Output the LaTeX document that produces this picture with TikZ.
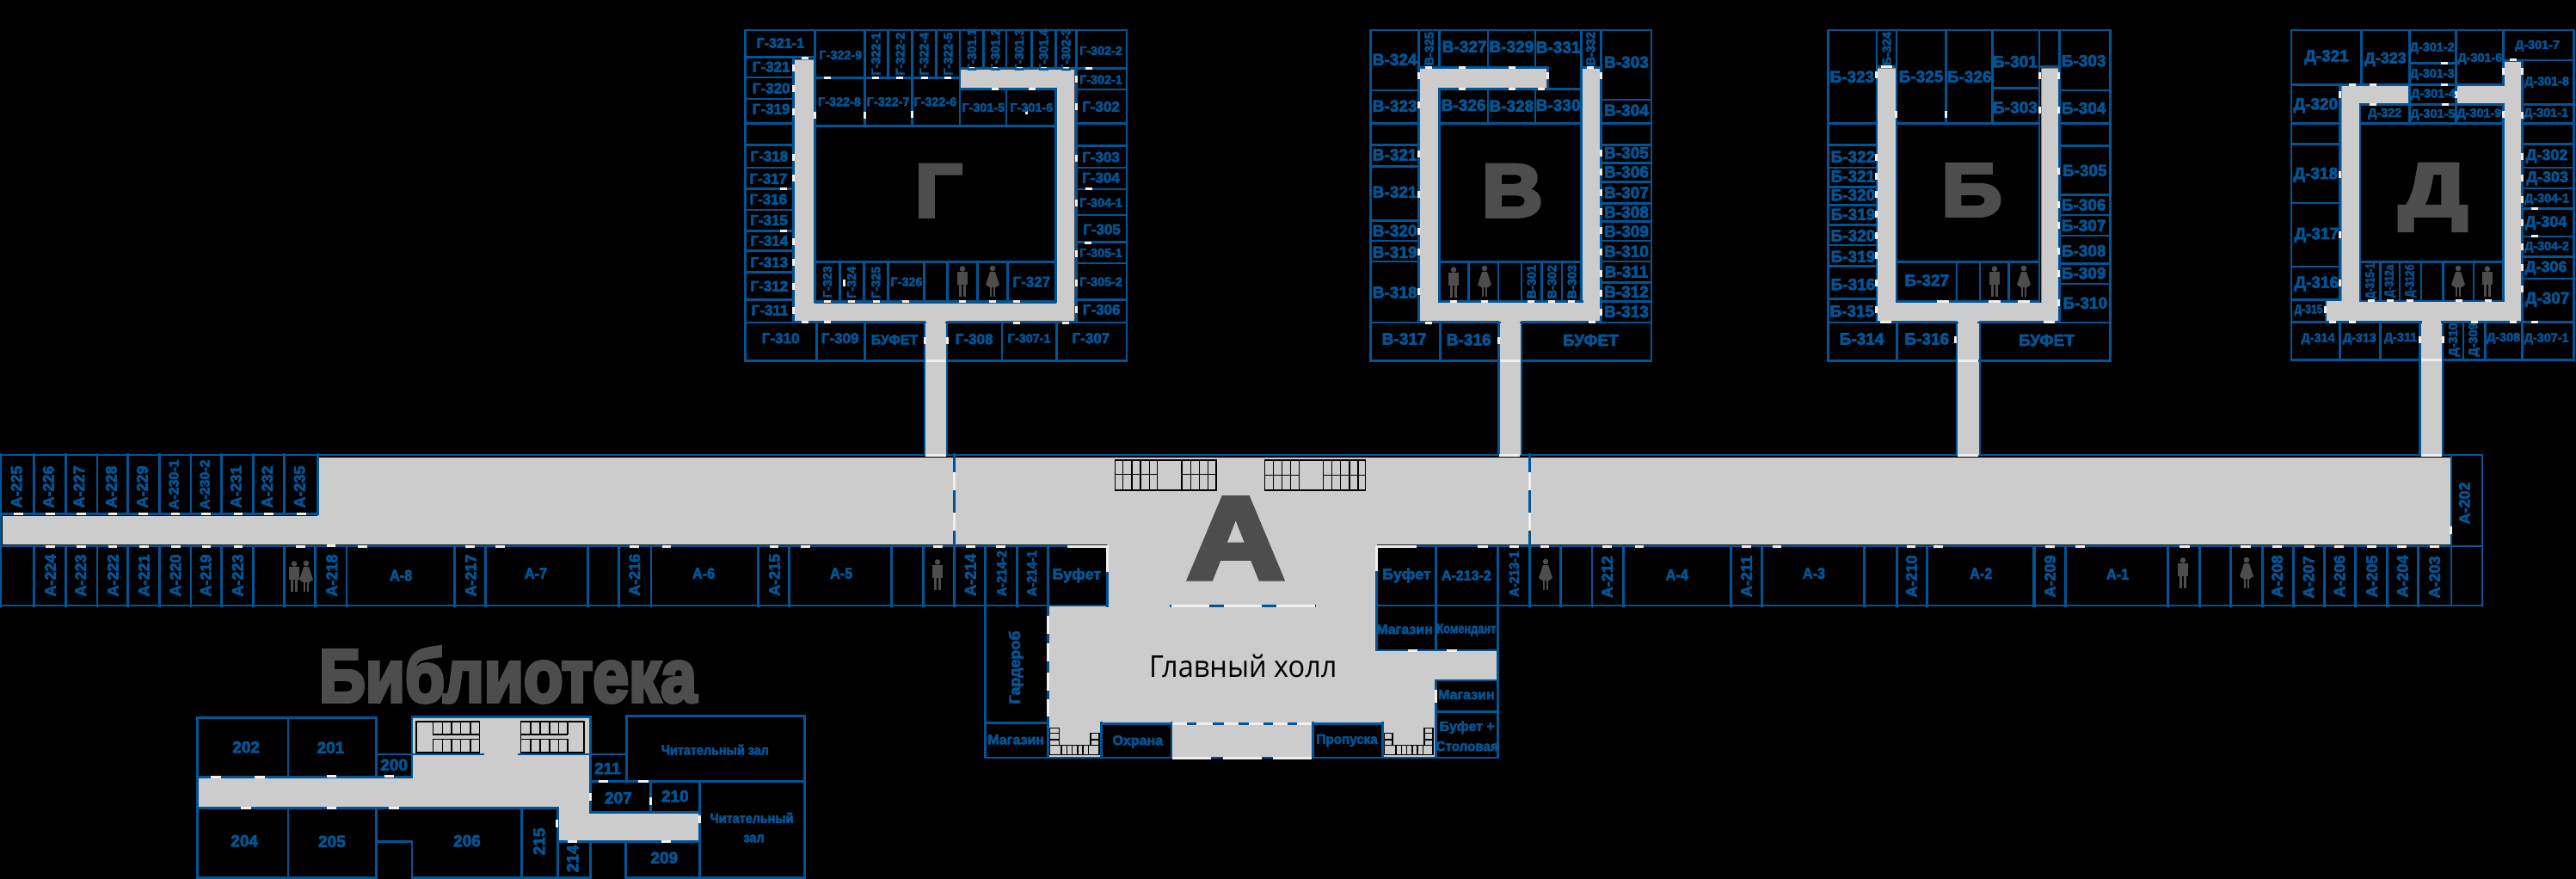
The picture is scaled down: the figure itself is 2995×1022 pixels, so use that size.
\documentclass[tikz,border=0pt]{standalone}
\usepackage{fontspec}
\setmainfont{Liberation Sans}
\newfontfamily\labf[BoldFeatures={FakeBold=3.5}]{Liberation Sans}
\newfontfamily\bigf[BoldFeatures={FakeBold=5}]{Liberation Sans}
\newfontfamily\hallf{Open Sans}
\definecolor{wallc}{HTML}{005596}
\definecolor{corr}{HTML}{CCCCCC}
\definecolor{doorc}{HTML}{EFEFEF}
\definecolor{letc}{HTML}{4D4D4D}
\tikzset{
  wall/.style={draw=wallc,line width=1.4pt,line cap=rect},
  doorline/.style={draw=doorc,line width=1.5pt},
  corridor/.style={fill=corr},
  stair/.style={draw=black,line width=.7pt},
  icon/.style={fill=letc},
  lab/.style={font=\labf\bfseries\fontsize{9}{9}\selectfont,text=wallc,inner sep=0pt},
  labb/.style={font=\labf\bfseries\fontsize{9.5}{9.5}\selectfont,text=wallc,inner sep=0pt},
  labg/.style={font=\labf\bfseries\fontsize{8.5}{8.5}\selectfont,text=wallc,inner sep=0pt},
  labm/.style={font=\labf\bfseries\fontsize{8}{8}\selectfont,text=wallc,inner sep=0pt},
  labs/.style={font=\labf\bfseries\fontsize{7.2}{7.2}\selectfont,text=wallc,inner sep=0pt},
  biglet/.style={font=\bigf\bfseries\fontsize{43.5}{43.5}\selectfont,text=letc,inner sep=0pt,anchor=base},
  zoomed/.style n args={4}{shift={(#1,#2)},xscale=1/#3,yscale=1/#4}
}
\newcommand\wallset[1]{\foreach \a/\b/\c/\d in {#1} \draw[wall] (\a,\b)--(\c,\d);}
\newcommand\hdoors[2]{\foreach \a/\b in {#2} \draw[doorline] (\a-#1,\b)--(\a+#1,\b);}
\newcommand\vdoors[2]{\foreach \a/\b in {#2} \draw[doorline] (\a,\b-#1)--(\a,\b+#1);}
\newcommand\labels[2]{\foreach \a/\b/\t in {#2} \node[#1] at (\a,\b) {\t};}
\newcommand\manicon[2]{\begin{scope}[shift={(#1,#2)}]
  \fill[icon] (0,-14.5) circle (3.3);
  \fill[icon] (-6,-11) rectangle (6,4);
  \fill[icon] (-4,4) rectangle (-.6,18);
  \fill[icon] (.6,4) rectangle (4,18);
\end{scope}}
\newcommand\womanicon[2]{\begin{scope}[shift={(#1,#2)}]
  \fill[icon] (0,-15) circle (3.3);
  \fill[icon] (-3,-11)--(3,-11)--(8,4)--(4,7)--(-4,7)--(-8,4)--cycle;
  \fill[icon] (-3.2,6) rectangle (-.8,18);
  \fill[icon] (.8,6) rectangle (3.2,18);
\end{scope}}
\begin{document}
\begin{tikzpicture}[x=0.5pt,y=-0.5pt]
\useasboundingbox (0,0) rectangle (2995,1022);
\fill[black] (0,0) rectangle (2995,1022);

% ===== main wing =====
\fill[corridor] (3,600)--(369,600)--(369,532)--(2849,532)--(2849,633)--(3,633)--cycle;
\begin{scope}[zoomed={0}{510}{2.613}{3}]
  \wallset{2/55/2/583, 0/262/965/262, 965/55/965/262}
  \foreach \x in {103,199,295,388,485,580,673,769,864} \draw[wall] (\x,55)--(\x,262);
  \foreach \x in {103,199,295,388,485,580,673,769,864,958,1053,1380,1475} \draw[wall] (\x,376)--(\x,583);
\end{scope}
\wallset{0/529/2886/529, 2/635/1287/635, 1601/635/2850/635, 2850/635/2886/635,
  2/704/1362/704, 1529/704/2886/704, 2886/529/2886/704, 2850/529/2850/704}
\begin{scope}[zoomed={600}{510}{2.613}{3}]
  \foreach \x in {218,313,410,735,830,1140,1238,1332,1425,1522} \draw[wall] (\x,376)--(\x,583);
  \wallset{1332/55/1332/376}
  \vdoors{32}{1332/148, 1332/290}
\end{scope}
\begin{scope}[zoomed={1740}{510}{2.45}{3}]
  \foreach \x in {5,95,183,272,362,667,755,1048,1140,1226,1532} \draw[wall] (\x,376)--(\x,583);
  \wallset{95/55/95/376}
  \vdoors{32}{95/148, 95/290}
\end{scope}
\begin{scope}[zoomed={2360}{510}{2.469}{3}]
  \foreach \x in {12,102,396,487,577,668,757,845,935,1026,1115} \draw[wall] (\x,376)--(\x,583);
\end{scope}

% ===== hall =====
\begin{scope}[zoomed={1120}{510}{2.45}{3}]
  \fill[corridor] (410,300)--(1178,300)--(1178,738)--(1522,738)--(1522,843)--(1345,843)--(1345,1110)--(1195,1110)--(1195,995)--(995,995)--(995,1110)--(595,1110)--(595,995)--(390,995)--(390,1110)--(245,1110)--(245,585)--(410,585)--cycle;
  \wallset{62/583/62/1113, 62/992/242/992, 62/1113/1522/1113, 242/583/242/1110, 592/583/1002/583,
    410/465/410/583, 1178/376/1178/738, 1347/583/1347/738, 1178/738/1522/738, 1522/583/1522/1113,
    1347/843/1347/1113, 1347/843/1522/843, 1347/952/1522/952,
    393/992/393/1113, 593/992/593/1113, 393/995/593/995,
    995/992/995/1113, 1195/992/1195/1113, 995/995/1195/995, 595/995/995/995,
    152/376/152/583, 62/376/62/583, 242/376/242/583, 1347/376/1347/583, 1522/376/1522/583}
  \draw[doorline] (297,376)--(410,376)--(410,465);
  \draw[doorline] (1290,376)--(1178,376)--(1178,462);
  \draw[doorline] (592,583)--(700,583) (742,583)--(850,583) (892,583)--(1002,583);
  \draw[doorline] (242,617)--(242,680) (242,715)--(242,778) (242,815)--(242,878) (242,908)--(242,968);
  \draw[doorline] (595,1113)--(705,1113) (740,1113)--(850,1113) (882,1113)--(992,1113);
  \draw[doorline] (595,995)--(637,995) (665,995)--(710,995) (742,995)--(783,995) (813,995)--(855,995) (882,995)--(923,995) (950,995)--(993,995);
  \draw[doorline] (1347,875)--(1347,920);
  \hdoors{14}{1280/738, 1392/738, 1480/376}
  \draw[stair] (432,75) rectangle (720,180);
  \draw[stair] (432,125)--(552,125) (622,125)--(720,125);
  \foreach \x in {455,480,505,530,552,622,648,672,697} \draw[stair] (\x,75)--(\x,180);
  \draw[stair] (858,75) rectangle (1145,180);
  \draw[stair] (858,128)--(957,128) (1025,128)--(1145,128);
  \foreach \x in {883,908,932,957,1025,1050,1075,1100,1125} \draw[stair] (\x,75)--(\x,180);
  \node[biglet,font=\bigf\bfseries\fontsize{67.5}{67.5}\selectfont,xscale=1.15] (letA) at (776,487) {А};
  \node[font=\hallf\fontsize{17.5}{17.5}\selectfont,text=black,inner sep=0pt,xscale=.93] (hall) at (797,792) {Главный холл};
  \labels{lab}{323/477/Буфет, 1263/477/Буфет}
  \labels{labm}{1433/477/А-213-2, 1257/665/Магазин, 1433/893/Магазин, 150/1050/Магазин, 497/1057/Охрана, 1435/1007/Буфет +}
  \node[labm,xscale=.8] at (1433,667) {Комендант};
  \node[labm,xscale=.95] at (1435,1073) {Столовая};
  \node[labm,xscale=.95] at (1093,1053) {Пропуска};
  \node[lab,rotate=90] at (150,798) {Гардероб};
  \node[labm,rotate=90,xscale=.92] at (195,470) {А-214-1};
\end{scope}
\begin{scope}[zoomed={1200}{830}{2.8}{3}]
  \draw[stair] (58,50)--(88,50)--(88,110)--(190,110)--(190,68)--(218,68)--(218,143)--(58,143)--cycle;
  \draw[stair] (58,68)--(88,68) (58,90)--(88,90) (58,110)--(88,110) (190,90)--(218,90) (190,110)--(218,110);
  \foreach \x in {95,113,130,148,165,183} \draw[stair] (\x,110)--(\x,143);
  \draw[stair] (1147,68)--(1173,68)--(1173,110)--(1277,110)--(1277,50)--(1305,50)--(1305,143)--(1147,143)--cycle;
  \draw[stair] (1147,90)--(1173,90) (1147,110)--(1173,110) (1277,68)--(1305,68) (1277,90)--(1305,90) (1277,110)--(1305,110);
  \foreach \x in {1185,1203,1220,1238,1255,1273} \draw[stair] (\x,110)--(\x,143);
\end{scope}

% ===== block Г =====
\begin{scope}[zoomed={850}{20}{3}{3}]
  \fill[corridor] (222,148)--(290,148)--(290,998)--(1135,998)--(1135,248)--(800,248)--(800,182)--(1198,182)--(1198,1060)--(750,1060)--(750,1527)--(678,1527)--(678,1060)--(222,1060)--cycle;
  \wallset{50/45/1380/45, 50/45/50/1198, 1380/45/1380/1198, 50/1198/1380/1198,
    50/140/293/140, 293/45/293/992, 218/140/218/1065, 50/1065/678/1065, 750/1065/1380/1065,
    293/212/798/212, 467/45/467/380, 548/45/548/212, 632/45/632/380, 715/45/715/212, 798/45/798/380,
    798/178/1380/178, 798/250/1133/250, 960/250/960/380, 1133/250/1133/992, 1205/45/1205/1065,
    293/380/1133/380, 293/853/1133/853, 293/992/1133/992, 675/1065/675/1527, 753/1065/753/1527}
  \foreach \y in {210,285,370,445,525,598,672,745,815,890,985} \draw[wall] (50,\y)--(218,\y);
  \foreach \x in {880,960,1048,1133} \draw[wall] (\x,45)--(\x,178);
  \foreach \y in {252,370,448,525,600,690,785,858,985} \draw[wall] (1205,\y)--(1380,\y);
  \foreach \x in {380,463,548,673,755,860,965} \draw[wall] (\x,853)--(\x,992);
  \foreach \x in {298,467,945,1135} \draw[wall] (\x,1065)--(\x,1198);
  \hdoors{12}{258/142,337/212,504/212,588/212,675/212,757/212,837/178,917/178,1005/178,1088/178,1168/178,1248/178,921/250,1050/250,183/598,183/745,1247/600,1245/787,337/992,420/992,507/992,608/992,807/992,912/992,996/992,258/1063,337/1063,996/1066,1168/1066}
  \hdoors{36}{714/1198}
  \vdoors{12}{218/177,218/248,218/330,218/488,218/560,218/783,218/855,218/938,218/1022,293/342,467/342,632/340,1205/216,1205/311,1205/492,1205/648,1205/825,1205/927,1203/1020,1030/327,395/927,675/1128,753/1128}
  \node[biglet,xscale=1.1] (letG) at (724,695) {Г};
  \labels{labg}{140/173/Г-321,140/248/Г-320,140/320/Г-319,133/485/Г-318,130/563/Г-317,130/635/Г-316,132/708/Г-315,133/780/Г-314,133/855/Г-313,133/938/Г-312,135/1022/Г-311,173/1120/Г-310,380/1120/Г-309,848/1123/Г-308,1255/1120/Г-307,1290/312/Г-302,1290/488/Г-303,1290/560/Г-304,1293/740/Г-305,1292/1020/Г-306,1048/923/Г-327}
  \labels{labm}{172/90/Г-321-1,570/1125/БУФЕТ}
  \labels{labs}{1040/1120/Г-307-1,382/132/Г-322-9,378/295/Г-322-8,548/295/Г-322-7,712/295/Г-322-6,880/315/Г-301-5,1048/315/Г-301-6,1290/117/Г-302-2,1290/218/Г-302-1,1290/647/Г-304-1,1290/822/Г-305-1,1290/923/Г-305-2,612/923/Г-326}
  \labels{labs,rotate=90}{505/128/Г-322-1,590/128/Г-322-2,673/128/Г-322-4,757/128/Г-322-5,840/114/Г-301.1,922/114/Г-301.2,1005/114/Г-301.3,1090/114/Г-301.4,1168/114/Г-302-3,336/923/Г-323,420/925/Г-324,505/925/Г-325}
\end{scope}

% ===== block В =====
\begin{scope}[zoomed={1580}{20}{3}{3}]
  \fill[corridor] (213,180)--(655,180)--(655,247)--(277,247)--(277,996)--(780,996)--(780,180)--(840,180)--(840,1060)--(565,1060)--(565,1527)--(490,1527)--(490,1060)--(213,1060)--cycle;
  \wallset{40/45/1020/45, 40/45/40/1198, 1020/45/1020/1198, 40/1198/1020/1198,
    208/45/208/1065, 208/175/660/175, 280/45/280/175, 450/45/450/175, 615/45/615/175,
    775/45/775/992, 775/175/845/175, 845/45/845/1065, 660/175/660/250, 280/250/775/250, 280/250/280/992,
    450/250/450/370, 615/250/615/370, 280/370/775/370, 280/853/775/853, 280/992/778/992,
    40/1065/490/1065, 565/1065/1020/1065, 283/1065/283/1198, 487/1065/487/1527, 567/1065/567/1527}
  \foreach \x in {382,486,567,637,708} \draw[wall] (\x,853)--(\x,992);
  \foreach \y in {255,370,445,520,710,780,852} \draw[wall] (40,\y)--(208,\y);
  \foreach \y in {288,370,445,508,575,650,712,780,852,925,992} \draw[wall] (845,\y)--(1020,\y);
  \hdoors{12}{242/175,360/175,534/175,808/175,360/250,534/250,637/250,330/992,438/992,600/992,672/992,740/992,243/1066,812/1063}
  \hdoors{36}{528/1198}
  \vdoors{12}{208/203,658/205,844/205,208/307,208/476,208/617,208/746,208/820,208/957,844/473,844/540,844/612,844/678,844/745,844/820,844/893,844/963,844/1028,487/1128}
  \node[biglet,xscale=1.12] (letV) at (535,695) {В};
  \labels{labb}{125/148/В-324,368/103/В-327,532/103/В-329,695/105/В-331,933/157/В-303,125/310/В-323,365/307/В-326,532/310/В-328,695/307/В-330,933/325/В-304,125/480/В-321,125/610/В-321,125/745/В-320,125/820/В-319,125/960/В-318,158/1122/В-317,383/1125/В-316,808/1127/БУФЕТ,933/473/В-305,933/540/В-306,933/612/В-307,933/680/В-308,933/747/В-309,933/817/В-310,933/888/В-311,933/958/В-312,933/1027/В-313}
  \labels{labs,rotate=90}{245/110/В-325,808/110/В-332,602/923/В-301,673/923/В-302,743/923/В-303}
\end{scope}

% ===== block Б =====
\begin{scope}[zoomed={2100}{20}{1.782}{3}]
  \fill[corridor] (148,178)--(187,178)--(187,996)--(487,996)--(487,178)--(522,178)--(522,1060)--(358,1060)--(358,1527)--(313,1527)--(313,1060)--(148,1060)--cycle;
  \wallset{45/45/630/45, 45/45/45/1198, 630/45/630/1198, 45/1198/630/1198,
    146/45/146/1065, 146/172/187/172, 187/45/187/992, 289/45/289/370, 386/45/386/370, 483/45/483/992,
    483/172/525/172, 386/248/483/248, 525/45/525/1065, 187/370/483/370, 187/853/483/853, 187/992/483/992,
    45/1065/313/1065, 358/1065/630/1065, 188/1065/188/1198, 312/1065/312/1527, 360/1065/360/1527}
  \foreach \x in {312,360,420} \draw[wall] (\x,853)--(\x,992);
  \foreach \y in {370,445,525,592,655,725,795,868,982} \draw[wall] (45,\y)--(146,\y);
  \foreach \y in {255,370,448,620,690,762,860,930} \draw[wall] (525,\y)--(630,\y);
  \hdoors{12}{167/174,283/992,390/992,451/992,165/1063,503/1063}
  \hdoors{22}{335/1198}
  \vdoors{12}{146/200,187/340,289/340,483/203,523/203,483/325,523/323,146/488,146/556,146/618,146/688,146/762,146/832,146/927,146/1020,523/536,523/654,523/727,523/816,523/895,523/995,310/1125}
  \node[biglet,xscale=1.12] (letB) at (343,693) {Б};
  \labels{labb}{95/208/Б-323,238/207/Б-325,338/208/Б-326,433/155/Б-301,575/152/Б-303,433/315/Б-303,575/317/Б-304,97/487/Б-322,97/555/Б-321,97/620/Б-320,97/688/Б-319,97/762/Б-320,97/835/Б-319,97/932/Б-316,95/1025/Б-315,115/1122/Б-314,250/1122/Б-316,498/1127/БУФЕТ,577/535/Б-305,575/655/Б-306,575/727/Б-307,575/815/Б-308,575/893/Б-309,578/997/Б-310,250/918/Б-327}
  \labels{labs,rotate=90}{167/110/Б-324}
\end{scope}

% ===== block Д =====
\begin{scope}[zoomed={2660}{20}{3}{3}]
  \fill[corridor] (187,240)--(420,240)--(420,305)--(252,305)--(252,992)--(755,992)--(755,305)--(590,305)--(590,240)--(755,240)--(755,155)--(815,155)--(815,1060)--(537,1060)--(537,1527)--(465,1527)--(465,1060)--(135,1060)--(135,990)--(187,990)--cycle;
  \wallset{12/45/998/45, 12/45/12/1195, 998/45/998/1195, 12/1195/998/1195,
    257/45/257/235, 425/45/425/370, 587/45/587/370, 752/45/752/235, 12/235/752/235, 425/160/587/160,
    752/150/998/150, 818/150/818/1065, 752/305/752/990, 252/305/752/305, 252/305/252/990,
    252/370/752/370, 252/853/752/853, 252/990/752/990, 182/235/182/985, 132/985/132/1062,
    12/1063/465/1063, 537/1063/998/1063, 461/1063/461/1527, 540/1063/540/1527}
  \foreach \x in {322,390,465,542,648} \draw[wall] (\x,853)--(\x,990);
  \foreach \y in {370,443,648,870,985} \draw[wall] (12,\y)--(182,\y);
  \foreach \y in {305,370,443,525,597,668,765,835,912} \draw[wall] (818,\y)--(998,\y);
  \foreach \x in {182,323,612,688,818} \draw[wall] (\x,1065)--(\x,1195);
  \hdoors{12}{225/235,297/235,545/162,545/235,297/305,548/305,785/150,860/668,860/765,290/990,357/990,425/990,596/990,698/990,155/1063,225/1063,650/1063,785/1063,860/1063}
  \hdoors{36}{500/1195}
  \vdoors{12}{752/188,816/188,182/270,587/270,752/340,816/342,182/548,182/758,182/927,816/486,816/560,816/635,816/718,816/800,816/872,816/948,130/1020,461/1125,540/1125}
  \node[biglet,xscale=1.28] (letD) at (507,692) {Д};
  \labels{labb}{135/140/Д-321,97/308/Д-320,97/550/Д-318,100/760/Д-317,100/930/Д-316,905/985/Д-307}
  \labels{lab}{340/147/Д-323,903/485/Д-302,905/562/Д-303,900/718/Д-304,900/875/Д-306}
  \labels{labs}{503/108/Д-301-2,670/145/Д-301-6,870/100/Д-301-7,503/200/Д-301-3,903/227/Д-301-8,507/270/Д-301-4,338/337/Д-322,505/340/Д-301-5,667/338/Д-301-9,900/337/Д-301-1,903/635/Д-304-1,903/802/Д-304-2,105/1122/Д-314,250/1122/Д-313,393/1120/Д-311,752/1120/Д-308,902/1122/Д-307-1}
  \node[labs,xscale=.85] at (72,1022) {Д-315};
  \labels{labs,rotate=90,xscale=.8}{290/920/Д-315-1,357/920/Д-312а,428/920/Д-312б}
  \labels{labs,rotate=90}{580/1125/Д-310,650/1125/Д-309}
\end{scope}

% ===== doors and labels of the main wing =====
\hdoors{12}{1088/529,1755/529,2288/529,2827/529}
\begin{scope}[zoomed={0}{510}{2.613}{3}]
  \hdoors{14}{57/262,153/262,247/262,342/262,435/262,533/262,626/262,724/262,816/262,915/262,152/376,247/376,342/376,437/376,534/376,627/376,724/376,913/376,1006/373,1101/376,1428/376,1520/376}
  \labels{lab,rotate=90}{50/168/А-225,147/168/А-226,240/168/А-227,338/168/А-228,432/168/А-229,717/168/А-231,812/168/А-232,910/168/А-235,153/477/А-224,245/477/А-223,343/477/А-222,437/477/А-221,533/477/А-220,625/477/А-219,722/477/А-223,1008/477/А-218,1430/477/А-217}
  \labels{labm,rotate=90}{528/160/А-230-1,622/160/А-230-2}
  \labels{lab,xscale=.9}{1218/477/А-8}
\end{scope}
\begin{scope}[zoomed={600}{510}{2.613}{3}]
  \hdoors{14}{359/376,457/376,784/376,879/376,1281/376,1380/376,1473/376}
  \labels{lab,rotate=90}{360/475/А-216,785/475/А-215,1380/475/А-214}
  \labels{labm,rotate=90,xscale=.92}{1475/470/А-214-2}
  \labels{lab,xscale=.9}{60/470/А-7,570/470/А-6,988/470/А-5}
\end{scope}
\begin{scope}[zoomed={1740}{510}{2.45}{3}]
  \hdoors{13}{50/376,137/376,315/376,407/376,711/376,799/376,1181/376,1258/376}
  \labels{lab,rotate=90}{315/482/А-212,712/480/А-211,1182/480/А-210}
  \labels{labm,rotate=90,xscale=.92}{50/472/А-213-1}
  \labels{lab,xscale=.9}{514/475/А-4,904/470/А-3,1380/470/А-2}
\end{scope}
\begin{scope}[zoomed={2360}{510}{2.469}{3}]
  \hdoors{14}{58/376,145/376,444/376,620/376,710/376,802/376,887/376,981/376,1068/376,1161/376}
  \vdoors{14}{1208/320}
  \labels{lab,rotate=90}{58/480/А-209,710/480/А-208,800/483/А-207,889/480/А-206,982/480/А-205,1070/480/А-204,1162/483/А-203,1248/225/А-202}
  \labels{lab,xscale=.9}{252/473/А-1}
\end{scope}

% ===== library =====
\begin{scope}[zoomed={210}{730}{2.063}{3}]
  \fill[corridor] (42,525)--(555,525)--(555,313)--(980,313)--(980,645)--(1243,645)--(1243,742)--(905,742)--(905,628)--(42,628)--cycle;
  \wallset{40/313/470/313, 40/313/40/872, 258/313/258/520, 470/313/470/520, 40/520/555/520,
    470/441/555/441, 555/310/555/520, 555/310/983/310, 983/310/983/640, 555/441/725/441, 812/441/1070/441,
    1070/307/1070/535, 1070/307/1497/307, 1497/307/1497/872, 983/535/1497/535, 1127/535/1127/643,
    983/643/1245/643, 1245/535/1245/872, 905/745/1245/745, 905/628/905/872, 40/628/905/628,
    258/628/258/872, 470/628/470/872, 555/745/555/872, 470/745/555/745, 818/628/818/872,
    983/745/983/872, 1068/745/1068/872, 40/872/470/872, 555/872/983/872, 1068/872/1497/872}
  \hdoors{12}{85/520,190/520,362/517,500/517,157/628,362/628,512/628,1014/535,1110/535,940/745,1165/745}
  \vdoors{14}{983/590,1127/605,1245/668,903/683}
  \draw[stair] (565,327) rectangle (717,435);
  \draw[stair] (605,372)--(717,372) (605,388)--(717,388);
  \foreach \x in {605,628,650,672,695} {\draw[stair] (\x,327)--(\x,372); \draw[stair] (\x,388)--(\x,435);}
  \draw[stair] (816,327) rectangle (968,435);
  \draw[stair] (816,372)--(928,372) (816,388)--(928,388);
  \foreach \x in {840,862,885,907,928} {\draw[stair] (\x,327)--(\x,372); \draw[stair] (\x,388)--(\x,435);}
  \node[biglet,xscale=.86] (libtitle) at (785,258) {Библиотека};
  \labels{labb}{157/416/202,360/418/201,512/478/200,1024/490/211,1050/593/207,1186/587/210,153/743/204,363/745/205,687/743/206,1160/802/209}
  \labels{labm,xscale=.9}{1282/425/Читательный зал,1370/663/Читательный,1375/735/зал}
  \labels{labb,rotate=90}{860/745/215,940/805/214}
\end{scope}

% ===== people =====
\manicon{1119}{327}\womanicon{1154}{327}
\manicon{1690}{328}\womanicon{1726}{327}
\manicon{2319}{327}\womanicon{2353}{327}
\womanicon{2858}{327}\manicon{2892}{327}
\manicon{342}{670}\womanicon{356}{670}
\manicon{1090}{668}
\womanicon{1797}{668}
\manicon{2538}{666}\womanicon{2612}{666}
\end{tikzpicture}
\end{document}
